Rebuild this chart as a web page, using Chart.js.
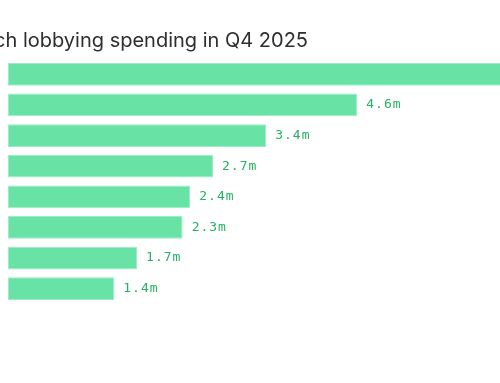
<!DOCTYPE html>
<html><head><meta charset="utf-8">
<script src="https://cdn.jsdelivr.net/npm/chart.js@4"></script>
<style>html,body{margin:0;padding:0;background:#fff;}canvas{display:block;}</style>
</head><body>
<canvas id="c" width="500" height="383"></canvas>
<script>
const titleText = "Big Tech lobbying spending in Q4 2025";
const categories = ["Meta", "Amazon", "Alphabet", "Microsoft", "Apple", "Nvidia", "OpenAI", "Oracle"];
const values = [7.1, 4.6, 3.4, 2.7, 2.4, 2.3, 1.7, 1.4];
const valueLabels = ["7.1m", "4.6m", "3.4m", "2.7m", "2.4m", "2.3m", "1.7m", "1.4m"];

const labelPlugin = {
  id: 'valLabels',
  afterDatasetsDraw(chart) {
    const ctx = chart.ctx;
    const meta = chart.getDatasetMeta(0);
    ctx.save();
    ctx.font = '13px "DejaVu Sans Mono", monospace';
    ctx.letterSpacing = '1px';
    ctx.fillStyle = '#24b263';
    ctx.textAlign = 'left';
    ctx.textBaseline = 'middle';
    meta.data.forEach((bar, i) => {
      ctx.fillText(valueLabels[i], bar.x + 9, bar.y);
    });
    ctx.restore();
  }
};
const titlePlugin = {
  id: 'cutTitle',
  afterDraw(chart) {
    const ctx = chart.ctx;
    ctx.save();
    ctx.font = '20px "Inter", "Noto Sans", sans-serif';
    ctx.fillStyle = '#2e2e2e';
    ctx.textAlign = 'right';
    ctx.textBaseline = 'alphabetic';
    ctx.fillText(titleText, 308, 47);
    ctx.restore();
  }
};

new Chart(document.getElementById('c'), {
  type: 'bar',
  data: {
    labels: categories,
    datasets: [{
      data: values,
      backgroundColor: '#68e3a5',
      borderColor: '#9aedc4',
      borderWidth: 1,
      borderSkipped: false,
      barPercentage: 0.74,
      categoryPercentage: 1.0
    }]
  },
  options: {
    indexAxis: 'y',
    responsive: false,
    animation: false,
    layout: { padding: { left: 8, top: 59, bottom: 79, right: 0 } },
    plugins: { legend: { display: false }, tooltip: { enabled: false }, title: { display: false } },
    scales: {
      x: { display: false, min: 0, max: 6.48 },
      y: { display: false }
    }
  },
  plugins: [labelPlugin, titlePlugin]
});
</script>
</body></html>
